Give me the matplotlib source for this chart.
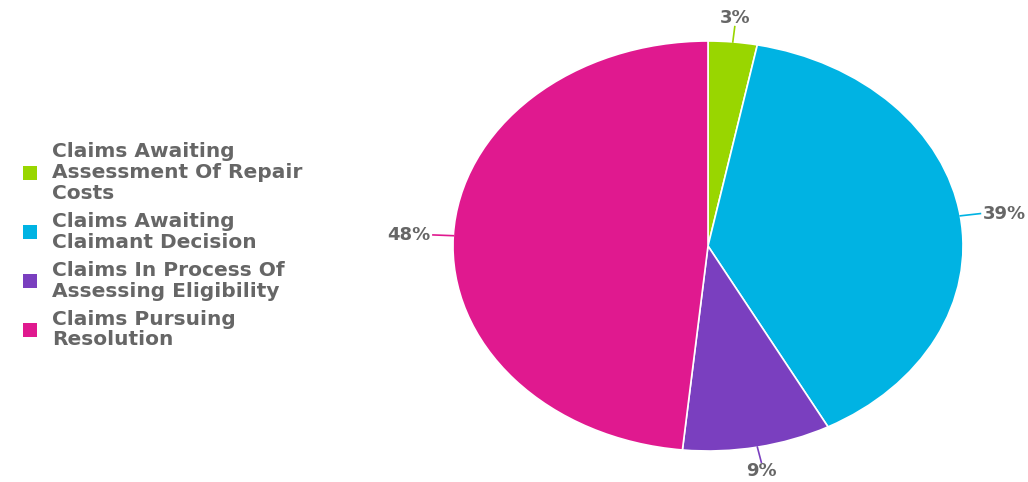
import numpy as np
from matplotlib import pyplot as plt
from matplotlib.patches import Patch

labels = ["Claims Awaiting\nAssessment Of Repair\nCosts",
          "Claims Awaiting\nClaimant Decision",
          "Claims In Process Of\nAssessing Eligibility",
          "Claims Pursuing\nResolution"]
values = [3.1, 39.1, 9.4, 48.4]
colors = ["#99d600", "#00b3e3", "#7a3fbf", "#e0198f"]

text_color = "#666666"
plt.rcParams['font.family'] = ['DejaVu Sans']

fig = plt.figure(figsize=(10.28, 4.82), dpi=100)
ax = fig.add_axes([0, 0, 1, 1])

wedges, _ = ax.pie(values, colors=colors, startangle=90, counterclock=False,
                   wedgeprops=dict(edgecolor="white", linewidth=1.2))

# pie is drawn as an ellipse, map data coords to the picture
ax.set_aspect('auto')
cx, cy, rx, ry = 708, 246, 255, 205
ax.set_xlim(-cx / rx, (1028 - cx) / rx)
ax.set_ylim((cy - 482) / ry, cy / ry)
ax.axis('off')

for w, v, c in zip(wedges, values, colors):
    theta = np.deg2rad((w.theta1 + w.theta2) / 2)
    dx, dy = np.cos(theta), np.sin(theta)
    x1, y1 = 1.08 * dx, 1.075 * dy
    if abs(dx) < 0.35:
        ha = "center"
        va = "bottom" if dy > 0 else "top"
        tx, ty = x1, y1
    else:
        ha = "left" if dx > 0 else "right"
        va = "center"
        tx, ty = x1 + (0.01 if dx > 0 else -0.01), y1
    ax.plot([dx, x1], [dy, y1], color=c, lw=1.2)
    ax.text(tx, ty, "%d%%" % round(v), ha=ha, va=va, color=text_color,
            fontsize=13, fontweight="bold", family="DejaVu Sans")

handles = [Patch(facecolor=c, edgecolor="none") for c in colors]
leg = fig.legend(handles, labels, loc="center left", bbox_to_anchor=(0.005, 0.49),
                 frameon=False, labelcolor=text_color,
                 prop=dict(family="DejaVu Sans", weight="bold", size=14.5),
                 handlelength=0.7, handleheight=0.7, handletextpad=0.75,
                 labelspacing=0.45)
for t in leg.get_texts():
    t.set_linespacing(1.12)

fig.savefig("out.png", dpi=100)
